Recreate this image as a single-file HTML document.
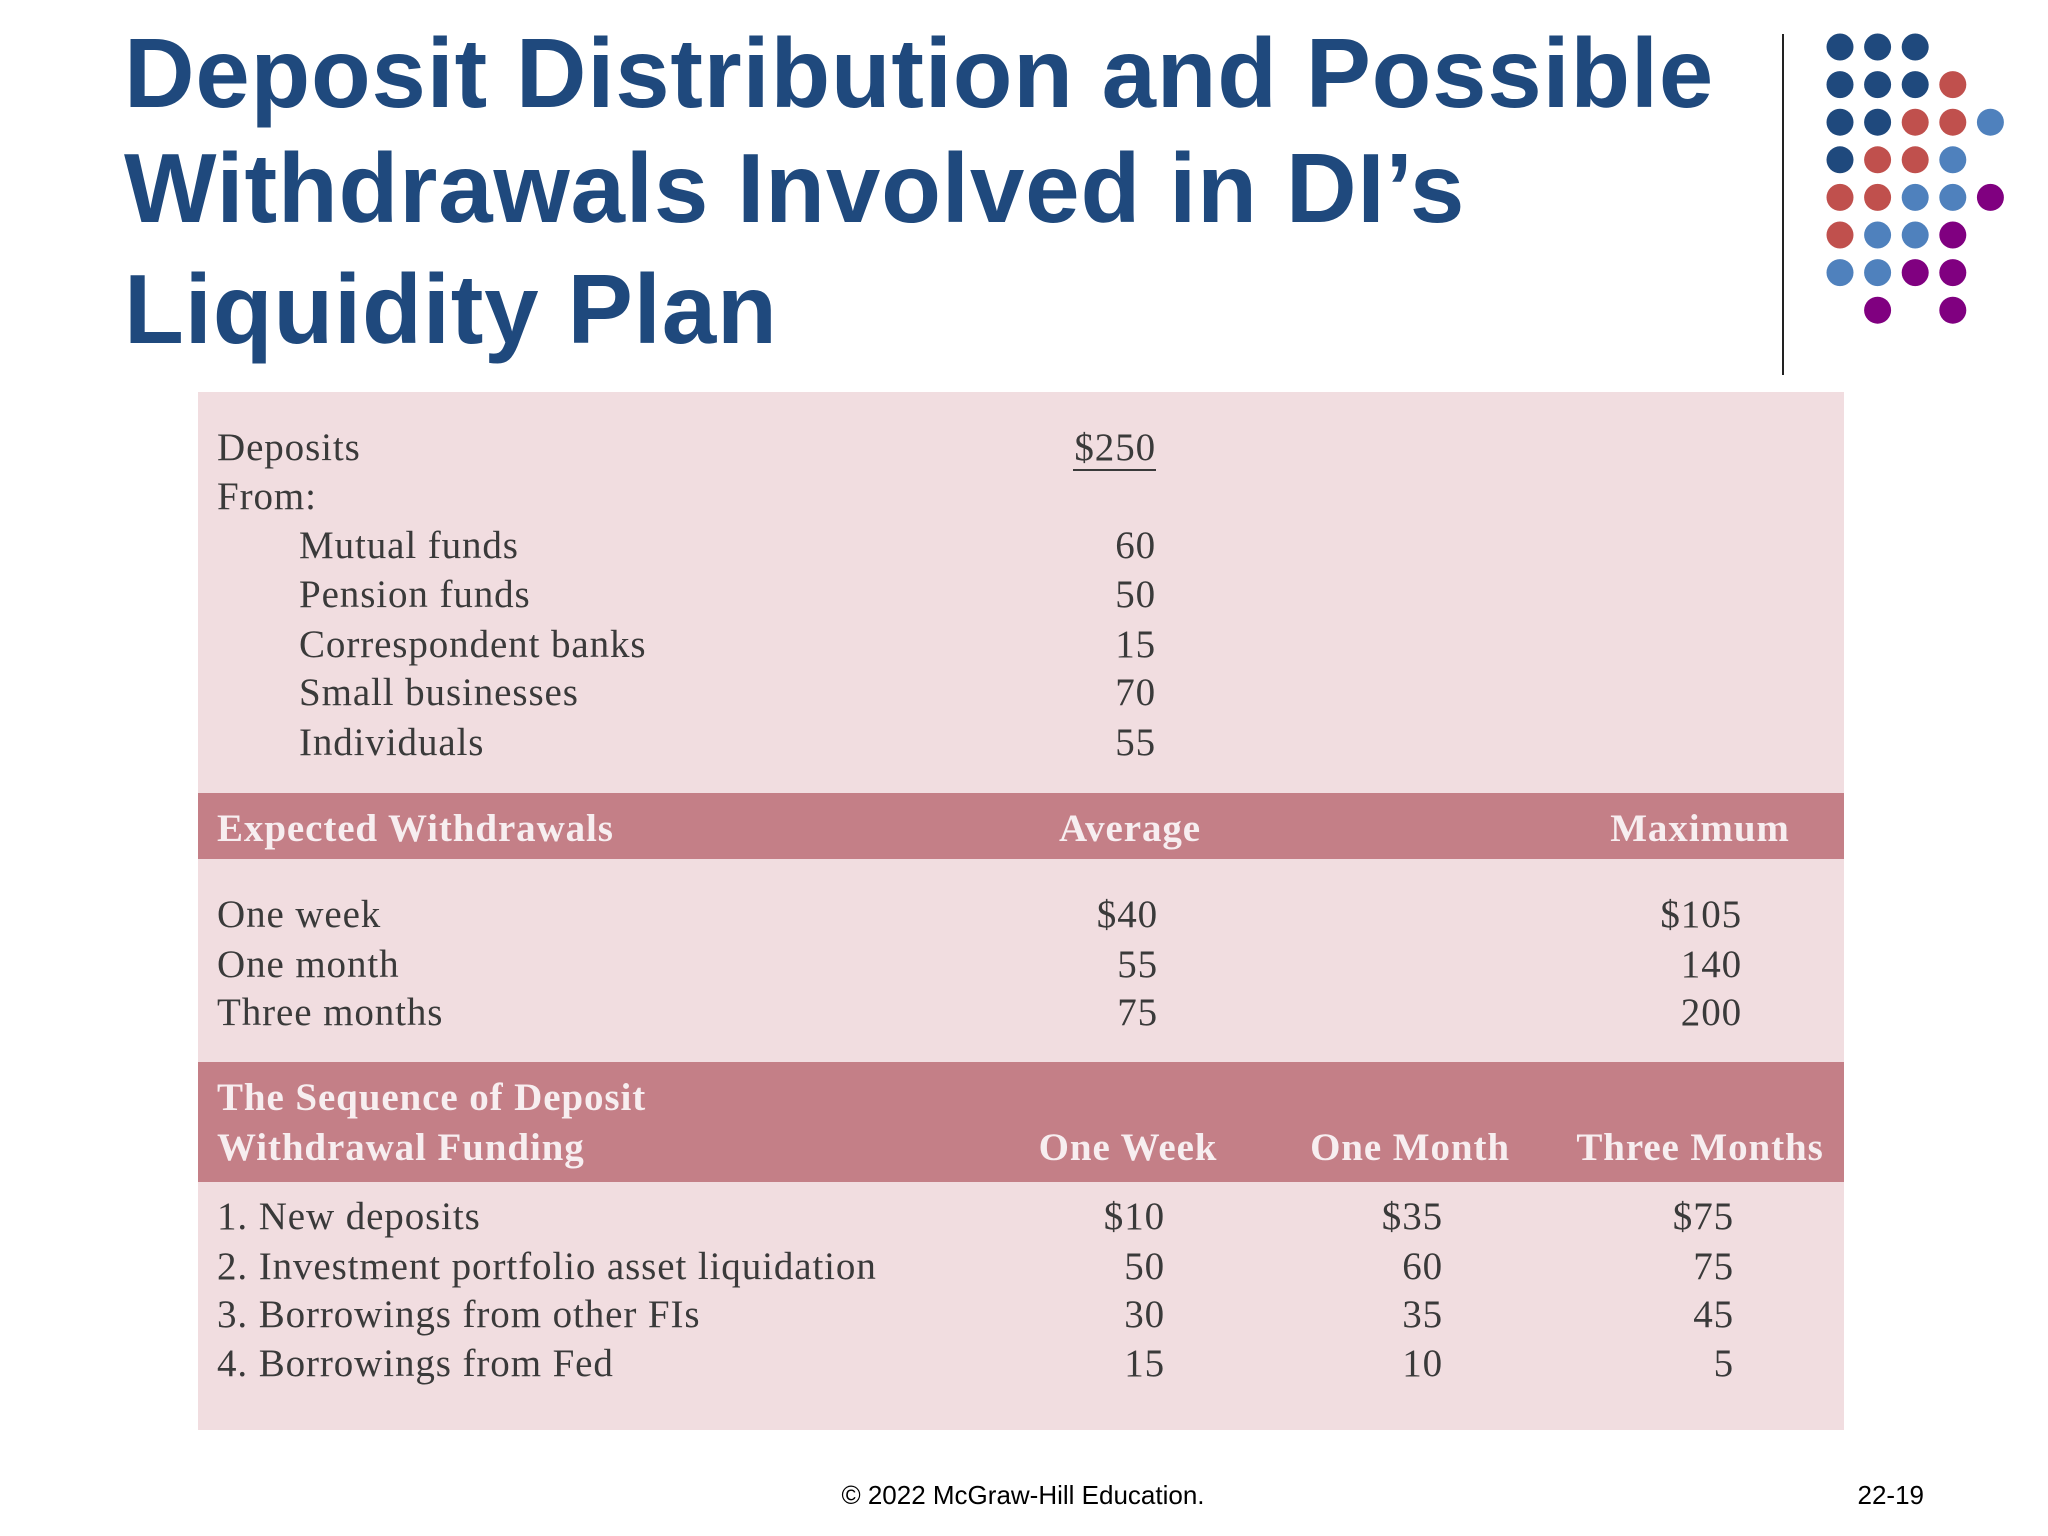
<!DOCTYPE html>
<html><head><meta charset="utf-8"><style>
html,body{margin:0;padding:0;background:#fff;}
svg{display:block;}
.t{font-family:"Liberation Sans",sans-serif;font-weight:bold;font-size:98px;fill:#1f497d;letter-spacing:0.8px;}
.s{font-family:"Liberation Serif",serif;font-size:39px;fill:#3a3a3a;letter-spacing:0.9px;}
.h{font-family:"Liberation Serif",serif;font-size:39px;font-weight:bold;fill:#f7eef0;letter-spacing:0.9px;}
.f{font-family:"Liberation Sans",sans-serif;font-size:26px;fill:#000;}
</style></head><body>
<svg width="2048" height="1536" viewBox="0 0 2048 1536">
<g>
<text class="t" x="124" y="107" textLength="1590" lengthAdjust="spacingAndGlyphs">Deposit Distribution and Possible</text>
<text class="t" x="124" y="222">Withdrawals Involved in DI’s</text>
<text class="t" x="124" y="343">Liquidity Plan</text>
</g>
<line x1="1783" y1="34" x2="1783" y2="375" stroke="#222" stroke-width="2"/>
<g id="dots"></g>
<rect x="198" y="392" width="1646" height="1038" fill="#f1dde0"/>
<rect x="198" y="793" width="1646" height="66" fill="#c47f87"/>
<rect x="198" y="1062" width="1646" height="120" fill="#c47f87"/>
<g>
<text class="s" x="217" y="460">Deposits</text>
<text class="s" x="1156" y="460" text-anchor="end">$250</text>
<line x1="1073" y1="470" x2="1156" y2="470" stroke="#3a3a3a" stroke-width="2"/>
<text class="s" x="217" y="509">From:</text>
<text class="s" x="299" y="558">Mutual funds</text><text class="s" x="1156" y="558" text-anchor="end">60</text>
<text class="s" x="299" y="607">Pension funds</text><text class="s" x="1156" y="607" text-anchor="end">50</text>
<text class="s" x="299" y="657">Correspondent banks</text><text class="s" x="1156" y="657" text-anchor="end">15</text>
<text class="s" x="299" y="705">Small businesses</text><text class="s" x="1156" y="705" text-anchor="end">70</text>
<text class="s" x="299" y="755">Individuals</text><text class="s" x="1156" y="755" text-anchor="end">55</text>
</g>
<g>
<text class="h" x="217" y="841">Expected Withdrawals</text>
<text class="h" x="1130" y="841" text-anchor="middle">Average</text>
<text class="h" x="1700" y="841" text-anchor="middle">Maximum</text>
<text class="s" x="217" y="927">One week</text><text class="s" x="1158" y="927" text-anchor="end">$40</text><text class="s" x="1742" y="927" text-anchor="end">$105</text>
<text class="s" x="217" y="977">One month</text><text class="s" x="1158" y="977" text-anchor="end">55</text><text class="s" x="1742" y="977" text-anchor="end">140</text>
<text class="s" x="217" y="1025">Three months</text><text class="s" x="1158" y="1025" text-anchor="end">75</text><text class="s" x="1742" y="1025" text-anchor="end">200</text>
</g>
<g>
<text class="h" x="217" y="1110">The Sequence of Deposit</text>
<text class="h" x="217" y="1160">Withdrawal Funding</text>
<text class="h" x="1128" y="1160" text-anchor="middle">One Week</text>
<text class="h" x="1410" y="1160" text-anchor="middle">One Month</text>
<text class="h" x="1700" y="1160" text-anchor="middle">Three Months</text>
<text class="s" x="217" y="1229">1. New deposits</text><text class="s" x="1165" y="1229" text-anchor="end">$10</text><text class="s" x="1443" y="1229" text-anchor="end">$35</text><text class="s" x="1734" y="1229" text-anchor="end">$75</text>
<text class="s" x="217" y="1279">2. Investment portfolio asset liquidation</text><text class="s" x="1165" y="1279" text-anchor="end">50</text><text class="s" x="1443" y="1279" text-anchor="end">60</text><text class="s" x="1734" y="1279" text-anchor="end">75</text>
<text class="s" x="217" y="1327">3. Borrowings from other FIs</text><text class="s" x="1165" y="1327" text-anchor="end">30</text><text class="s" x="1443" y="1327" text-anchor="end">35</text><text class="s" x="1734" y="1327" text-anchor="end">45</text>
<text class="s" x="217" y="1376">4. Borrowings from Fed</text><text class="s" x="1165" y="1376" text-anchor="end">15</text><text class="s" x="1443" y="1376" text-anchor="end">10</text><text class="s" x="1734" y="1376" text-anchor="end">5</text>
</g>
<text class="f" x="1023" y="1504" text-anchor="middle">© 2022 McGraw-Hill Education.</text>
<text class="f" x="1924" y="1504" text-anchor="end">22-19</text>
</svg>
<script>
const dotRows = ["BBB..","BBBR.","BBRRL","BRRL.","RRLLP","RLLP.","LLPP.",".P.P."];
const dotColors = {B:"#1f497d",R:"#c0504d",L:"#4f81bd",P:"#800080"};
const g = document.getElementById('dots');
dotRows.forEach((row, r) => {
  [...row].forEach((ch, c) => {
    if (ch === '.') return;
    const el = document.createElementNS('http://www.w3.org/2000/svg','circle');
    el.setAttribute('cx', 1840 + c*37.6);
    el.setAttribute('cy', 47 + r*37.6);
    el.setAttribute('r', 13.5);
    el.setAttribute('fill', dotColors[ch]);
    
    
    g.appendChild(el);
  });
});
</script>
</body></html>
